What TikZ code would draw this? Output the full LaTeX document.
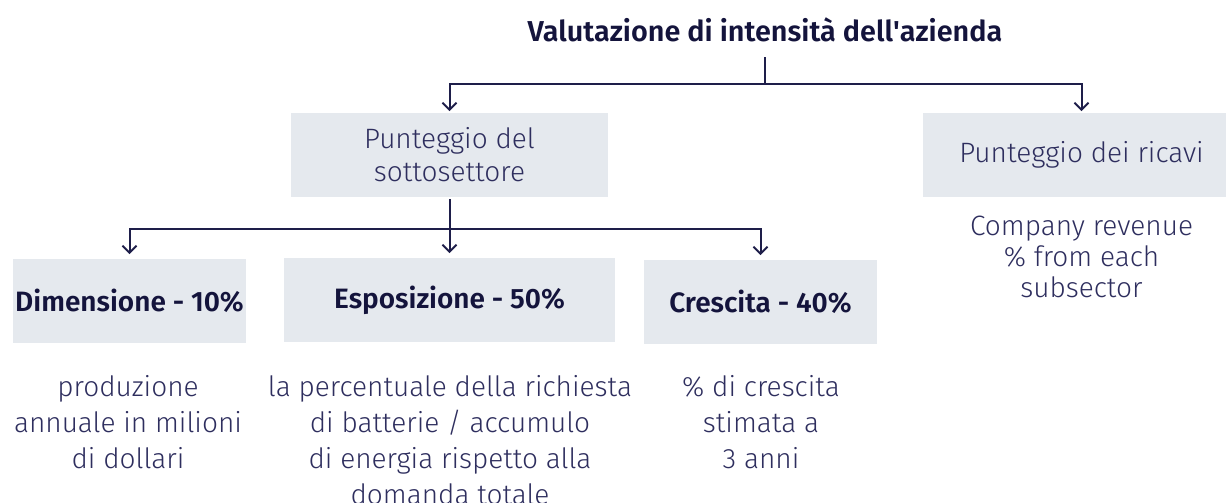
\documentclass[tikz,border=0pt]{standalone}
\usepackage{fontspec}
\setmainfont{Fira Sans Light}[BoldFont={Fira Sans SemiBold}]
\usetikzlibrary{arrows.meta}
\definecolor{navy}{HTML}{14143C}
\definecolor{inkblue}{HTML}{2E2E5E}
\definecolor{boxgray}{HTML}{E5E9EE}
\definecolor{linenavy}{HTML}{1E1E4A}
\tikzset{
  box/.style={fill=boxgray, inner sep=0pt, align=center, minimum width=158.5pt, minimum height=42pt},
  boxtitle/.style={box, font=\bfseries\fontsize{14}{16.5}\selectfont, text=navy},
  boxlabel/.style={box, font=\fontsize{14}{16.5}\selectfont, text=inkblue},
  note/.style={align=center, inner sep=0pt, anchor=north, text=inkblue, font=\fontsize{14}{18}\selectfont},
  link/.style={draw=linenavy, line width=1pt},
  arrowlink/.style={link, -{Straight Barb[length=3.5pt,width=7pt]}},
}
\begin{document}
\begin{tikzpicture}[x=0.5pt,y=-0.5pt]
\useasboundingbox (0,0) rectangle (1226,503);
% title and first level
\node[font=\bfseries\fontsize{14.4}{17}\selectfont, text=navy] (title) at (765,30) {Valutazione di intensità dell\textquotesingle azienda};
\node[boxlabel] (subsector) at (449.5,155) {Punteggio del\\sottosettore};
\node[boxlabel] (revenue) at (1081.5,155) {Punteggio dei ricavi};
\node[note, font=\fontsize{14}{15.5}\selectfont] (revenuenote) at (1081.5,216) {Company revenue\\\% from each\\subsector};
% second level
\node[boxtitle, minimum width=116.5pt] (size) at (129.5,301) {Dimensione - 10\%};
\node[boxtitle, minimum width=165.5pt] (exposure) at (449.5,300) {Esposizione - 50\%};
\node[boxtitle, minimum width=116.5pt] (growth) at (760.5,302) {Crescita - 40\%};
\node[note] (sizenote) at (128,375) {produzione\\annuale in milioni\\di dollari};
\node[note] (exposurenote) at (450,375) {la percentuale della richiesta\\di batterie / accumulo\\di energia rispetto alla\\domanda totale};
\node[note] (growthnote) at (761,375) {\% di crescita\\stimata a\\3 anni};
% connectors
\coordinate (titlefoot) at (765,57);
\coordinate (titlesplit) at (765,84);
\coordinate (subsplit) at (449.5,229);
\draw[link] (titlefoot) -- (titlesplit);
\draw[arrowlink, shorten >=0.75pt] (titlesplit) -| (subsector.north);
\draw[arrowlink, shorten >=0.75pt] (titlesplit) -| (revenue.north);
\draw[link] ([yshift=-1pt]subsector.south) -- (subsplit);
\foreach \n in {size,exposure,growth}
  \draw[arrowlink, shorten >=2.25pt] (subsplit) -| (\n.north);
\end{tikzpicture}
\end{document}
